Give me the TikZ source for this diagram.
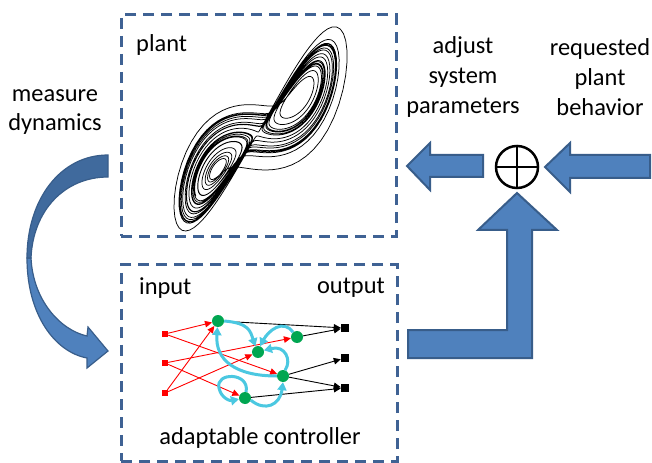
\documentclass[tikz,border=0pt]{standalone}
\usepackage{fontspec}
\setmainfont{Carlito}
\usetikzlibrary{arrows.meta}
\definecolor{boxblue}{RGB}{63,98,148}
\definecolor{arrfill}{RGB}{79,129,189}
\definecolor{arrdraw}{RGB}{56,93,138}
\definecolor{arrdark}{RGB}{64,106,157}
\definecolor{nodegreen}{RGB}{0,166,81}
\definecolor{recur}{RGB}{75,200,225}
\ExplSyntaxOn
\fp_new:N \l__lz_x_fp
\fp_new:N \l__lz_y_fp
\fp_new:N \l__lz_z_fp
\fp_new:N \l__lz_dx_fp
\fp_new:N \l__lz_dy_fp
\fp_new:N \l__lz_dz_fp
\tl_new:N \g_lz_path_tl
\cs_new_protected:Npn \lz_compute:
  {
    \fp_set:Nn \l__lz_x_fp {1}
    \fp_set:Nn \l__lz_y_fp {1}
    \fp_set:Nn \l__lz_z_fp {1}
    \tl_gclear:N \g_lz_path_tl
    \int_step_inline:nn {6500}
      {
        \fp_set:Nn \l__lz_dx_fp { 10 * ( \l__lz_y_fp - \l__lz_x_fp ) }
        \fp_set:Nn \l__lz_dy_fp { \l__lz_x_fp * ( 28 - \l__lz_z_fp ) - \l__lz_y_fp }
        \fp_set:Nn \l__lz_dz_fp { \l__lz_x_fp * \l__lz_y_fp - 8/3 * \l__lz_z_fp }
        \fp_add:Nn \l__lz_x_fp { 0.005 * \l__lz_dx_fp }
        \fp_add:Nn \l__lz_y_fp { 0.005 * \l__lz_dy_fp }
        \fp_add:Nn \l__lz_z_fp { 0.005 * \l__lz_dz_fp }
        \bool_lazy_and:nnT { \int_compare_p:nNn {##1} > {1000} } { \int_if_even_p:n {##1} }
          {
            \tl_if_empty:NF \g_lz_path_tl { \tl_gput_right:Nn \g_lz_path_tl { -- } }
            \tl_gput_right:Nx \g_lz_path_tl
              { ( \fp_eval:n { round( \l__lz_x_fp , 3 ) } , \fp_eval:n { round( \l__lz_y_fp , 3 ) } ) }
          }
      }
  }
\NewDocumentCommand \ComputeLorenz {} { \lz_compute: }
\NewDocumentCommand \DrawLorenz { m } { \use:x { \exp_not:N \draw [#1] \exp_not:V \g_lz_path_tl ; } }
\ExplSyntaxOff
\ComputeLorenz
\begin{document}
\begin{tikzpicture}[x=1bp,y=-1bp,
  lbl/.style={font=\fontsize{24.5}{30}\selectfont, align=center, inner sep=0pt},
  dbox/.style={draw=boxblue, line width=3bp, dash pattern=on 11bp off 7bp, rectangle, inner sep=0pt},
  blockarrow/.style={fill=arrfill, draw=arrdraw, line width=2bp, line join=miter},
  neuron/.style={circle, fill=nodegreen, minimum size=12bp, inner sep=0pt},
  innode/.style={rectangle, fill=red, minimum size=6bp, inner sep=0pt},
  outnode/.style={rectangle, fill=black, minimum size=8bp, inner sep=0pt},
  redarrow/.style={red, line width=0.9bp, -{Triangle[length=7bp,width=6.5bp]}},
  blkarrow/.style={black, line width=0.9bp, -{Triangle[length=7bp,width=6.5bp]}},
  cyanarrow/.style={recur, line width=3bp, -{Triangle[length=8bp,width=9bp]}},
]
\useasboundingbox (0,0) rectangle (652,463);
\fill[white] (0,0) rectangle (652,463);

% boxes
\node[dbox, minimum width=275bp, minimum height=221bp] (plant) at (258.5,125.5) {};
\node[dbox, minimum width=276bp, minimum height=196bp] (ctrl) at (259,363) {};

% Lorenz attractor (x-y projection)
\begin{scope}[shift={(258,133)}, x={(4.8bp,0bp)}, y={(0bp,4.3bp)}]
  \DrawLorenz{black, line width=0.75bp, line join=round}
\end{scope}

% labels
\node[lbl, anchor=west] (plantlbl) at (136,45) {plant};
\node[lbl] (adj) at (463,77) {adjust\\system\\parameters};
\node[lbl] (req) at (600,77) {requested\\plant\\behavior};
\node[lbl] (meas) at (55,112) {measure\\dynamics};
\node[lbl, anchor=west] (inlbl) at (139,288) {input};
\node[lbl, anchor=east] (outlbl) at (385,288) {output};
\node[lbl] (ctrllbl) at (260,438) {adaptable controller};

% summing junction
\node[circle, draw=black, line width=2.5bp, minimum size=42bp, inner sep=0pt] (sum) at (517,167) {};
\draw[line width=2.5bp] (sum.north) -- (sum.south);
\draw[line width=2.5bp] (sum.west) -- (sum.east);

% block arrows
\draw[blockarrow] (407,166) -- (430,143) -- (430,155) -- (483,155) -- (483,177) -- (430,177) -- (430,190) -- cycle;
\draw[blockarrow] (545,167) -- (570,143) -- (570,155) -- (650,155) -- (650,178) -- (570,178) -- (570,192) -- cycle;
\draw[blockarrow] (517,193) -- (557,230) -- (532,230) -- (532,358) -- (408,358) -- (408,330) -- (507,330) -- (507,230) -- (478,230) -- cycle;

% curved arrow
\draw[blockarrow, line width=1.2bp] (27,258) .. controls (27,315) and (55,352) .. (87,358) -- (87,368) -- (108,351) -- (88,327) -- (87,336) .. controls (60,330) and (33,300) .. (31,258) -- cycle;
\draw[fill=arrdark, draw=arrdraw, line width=1.2bp] (108,155) .. controls (60,155) and (27,200) .. (27,258) -- (31,258) .. controls (33,210) and (65,177) .. (108,177) -- cycle;

% network nodes
\node[innode] (i1) at (165,334) {};
\node[innode] (i2) at (165,363) {};
\node[innode] (i3) at (165,393) {};
\node[neuron] (h1) at (218,321) {};
\node[neuron] (h2) at (297,337) {};
\node[neuron] (h3) at (258,352) {};
\node[neuron] (h4) at (283,376) {};
\node[neuron] (h5) at (245,398) {};
\node[outnode] (o1) at (345,328) {};
\node[outnode] (o2) at (345,358) {};
\node[outnode] (o3) at (345,388) {};

% feedforward edges
\draw[redarrow] (i1) -- (h1);
\draw[redarrow] (i1) -- (h4);
\draw[redarrow] (i2) -- (h2);
\draw[redarrow] (i2) -- (h5);
\draw[redarrow] (i3) -- (h1);
\draw[redarrow] (i3) -- (h3);
\draw[blkarrow] (h1) -- (o1);
\draw[blkarrow] (h2) -- (o1);
\draw[blkarrow] (h4) -- (o2);
\draw[blkarrow] (h4) -- (o3);
\draw[blkarrow] (h5) -- (o3);

% recurrent edges
\draw[cyanarrow] (h1.0) .. controls +(25,2) and +(-5,-15) .. (h3.115);
\draw[cyanarrow] (h2.130) .. controls +(-10,-14) and +(8,-15) .. (h3.70);
\draw[cyanarrow] (h4.180) .. controls (235,376) and (215,360) .. (h1.265);
\draw[cyanarrow] (h4.70) .. controls (292,360) and (285,345) .. (h3.15);
\draw[cyanarrow] (h5.80) .. controls (250,372) and (215,372) .. (219,388) .. controls (221,398) and (230,401) .. (h5.190);
\draw[cyanarrow] (h5.340) .. controls (265,412) and (280,405) .. (h4.270);
\end{tikzpicture}
\end{document}
